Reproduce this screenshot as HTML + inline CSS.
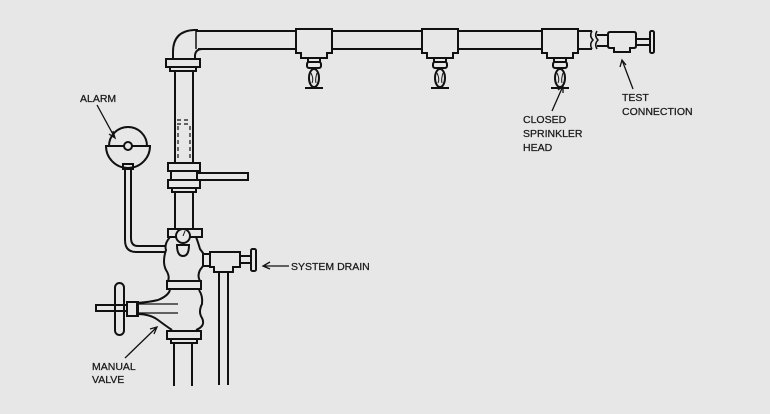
<!DOCTYPE html>
<html><head><meta charset="utf-8"><style>
html,body{margin:0;padding:0;background:#e7e7e7;}
svg{display:block}
text{font-family:"Liberation Sans",Arial,sans-serif;font-size:10.5px;fill:#1a1a1a;stroke:#1a1a1a;stroke-width:0.25px;}
</style></head><body>
<svg width="770" height="414" viewBox="0 0 770 414" xmlns="http://www.w3.org/2000/svg">
<rect width="770" height="414" fill="#e7e7e7"/>
<defs>
<g id="spr" fill="#e7e7e7" stroke="#111" stroke-width="2">
  <path d="M-18,0 H18 V24 H13 V29 H-13 V24 H-18 Z"/>
  <rect x="-6" y="29" width="12" height="4"/>
  <rect x="-7" y="33" width="14" height="6" rx="2"/>
  <ellipse cx="0" cy="49" rx="5" ry="9"/>
  <path d="M-3,44 Q0,50 -2,54 M3,44 Q1,50 2,54" stroke-width="1"/>
  <line x1="-9" y1="59" x2="9" y2="59"/>
</g>
</defs>
<g fill="none" stroke="#111" stroke-width="2">
  <!-- main horizontal pipe -->
  <line x1="196" y1="31" x2="592" y2="31"/>
  <line x1="198" y1="49" x2="592" y2="49"/>
  <!-- elbow -->
  <path d="M173,58 V52 Q173,31 194,30 H198"/>
  <path d="M195,58 V55 Q196,49 202,49"/>
  <line x1="196" y1="30" x2="196" y2="49" stroke-width="1.5"/>
  <!-- flange below elbow -->
  <rect x="166" y="59" width="34" height="8" fill="#e7e7e7"/>
  <rect x="170" y="67" width="26" height="4"/>
  <!-- riser -->
  <line x1="175" y1="71" x2="175" y2="163"/>
  <line x1="193" y1="71" x2="193" y2="163"/>
  <!-- dashed glass -->
  <path d="M177,120 H191 M177,124 H191 M178,126 V160 M190,126 V160" stroke-dasharray="4,3" stroke-width="1.2"/>
  <!-- flanges middle -->
  <rect x="168" y="163" width="32" height="8" fill="#e7e7e7"/>
  <rect x="171" y="171" width="26" height="9"/>
  <rect x="168" y="180" width="32" height="8" fill="#e7e7e7"/>
  <rect x="172" y="188" width="24" height="4"/>
  <path d="M197,173 H248 V180 H197"/>
  <line x1="175" y1="192" x2="175" y2="230"/>
  <line x1="193" y1="192" x2="193" y2="230"/>
  <!-- alarm -->
  <path d="M109,146 A19,19 0 0 1 147,146"/>
  <path d="M106,146 H150 A22,22 0 0 1 106,146 Z"/>
  <circle cx="128" cy="146" r="4" fill="#e7e7e7"/>
  <rect x="123" y="164" width="10" height="5"/>
  <line x1="125" y1="169" x2="125" y2="240"/>
  <line x1="131" y1="169" x2="131" y2="238"/>
  <path d="M125,240 Q125,252 136,252 H166"/>
  <path d="M131,238 Q131,246 138,246 H166"/>
  <!-- alarm valve body -->
  <path d="M170,237 Q164,244 166,250 Q162,262 166,270 Q170,276 168,281 H200 Q197,276 200,270 L203,266 V253 L200,249 Q198,242 196,237 Z" fill="#e7e7e7"/>
  <rect x="168" y="229" width="34" height="8" fill="#e7e7e7"/>
  <circle cx="183" cy="236" r="7" fill="#e7e7e7"/>
  <line x1="183" y1="236" x2="185" y2="231" stroke-width="1"/>
  <path d="M177,245 H189 Q189,256 183,256 Q177,256 177,245 Z"/>
  <rect x="203" y="254" width="7" height="12"/>
  <!-- drain tee -->
  <path d="M210,252 H240 V267 H233 V272 H214 V267 H210 Z" fill="#e7e7e7"/>
  <rect x="240" y="256" width="12" height="7"/>
  <rect x="251" y="249" width="5" height="22" rx="1.5" fill="#e7e7e7"/>
  <line x1="219" y1="272" x2="219" y2="385"/>
  <line x1="228" y1="272" x2="228" y2="385"/>
  <!-- flange -->
  <rect x="167" y="281" width="34" height="8" fill="#e7e7e7"/>
  <!-- manual valve body -->
  <path d="M170,290 Q168,296 158,300 Q150,302 137,303 V314 Q150,314 158,320 Q166,326 172,330 M199,290 Q203,296 202,304 Q198,312 202,318 Q206,326 196,330"/>
  <path d="M137,304 H178 M139,313 H178" stroke-width="1.2"/>
  <rect x="127" y="302" width="11" height="14"/>
  <rect x="96" y="305" width="31" height="6"/>
  <rect x="115" y="283" width="9" height="52" rx="4.5"/>
  <rect x="167" y="331" width="34" height="8" fill="#e7e7e7"/>
  <rect x="171" y="339" width="26" height="4"/>
  <line x1="174" y1="343" x2="174" y2="386"/>
  <line x1="192" y1="343" x2="192" y2="386"/>
  <!-- break -->
  <path d="M592,31 Q589,36 593,40 Q589,44 592,49 M597,31 Q594,36 598,40 Q594,44 597,49" stroke-width="1.5"/>
  <line x1="597" y1="35" x2="608" y2="35"/>
  <line x1="597" y1="46" x2="608" y2="46"/>
  <!-- test connection -->
  <path d="M610,32 H634 Q636,32 636,34 V46 Q636,48 634,48 H630 V52 H614 V48 H610 Q608,48 608,46 V34 Q608,32 610,32 Z" fill="#e7e7e7"/>
  <rect x="636" y="39" width="14" height="6"/>
  <rect x="650" y="31" width="4" height="22" rx="1.5" fill="#e7e7e7"/>
  <!-- leaders -->
  <path d="M97,105 L115,138 M113,131 L115,138 L109,134" stroke-width="1.3"/>
  <path d="M289,266 H264 M270,262 L263,266 L270,269" stroke-width="1.3"/>
  <path d="M125,358 L157,327 M150,329 L157,327 L154,334" stroke-width="1.3"/>
  <path d="M552,111 L563,86 M558,90 L563,86 L563,93" stroke-width="1.3"/>
  <path d="M633,89 L622,60 M620,67 L622,60 L626,65" stroke-width="1.3"/>
</g>
<use href="#spr" x="314" y="29"/>
<use href="#spr" x="440" y="29"/>
<use href="#spr" x="560" y="29"/>
<text x="80" y="102">ALARM</text>
<text x="291" y="270">SYSTEM DRAIN</text>
<text x="92" y="370">MANUAL</text>
<text x="92" y="383">VALVE</text>
<text x="523" y="123">CLOSED</text>
<text x="523" y="137">SPRINKLER</text>
<text x="523" y="151">HEAD</text>
<text x="622" y="101">TEST</text>
<text x="622" y="115">CONNECTION</text>
</svg>
</body></html>
